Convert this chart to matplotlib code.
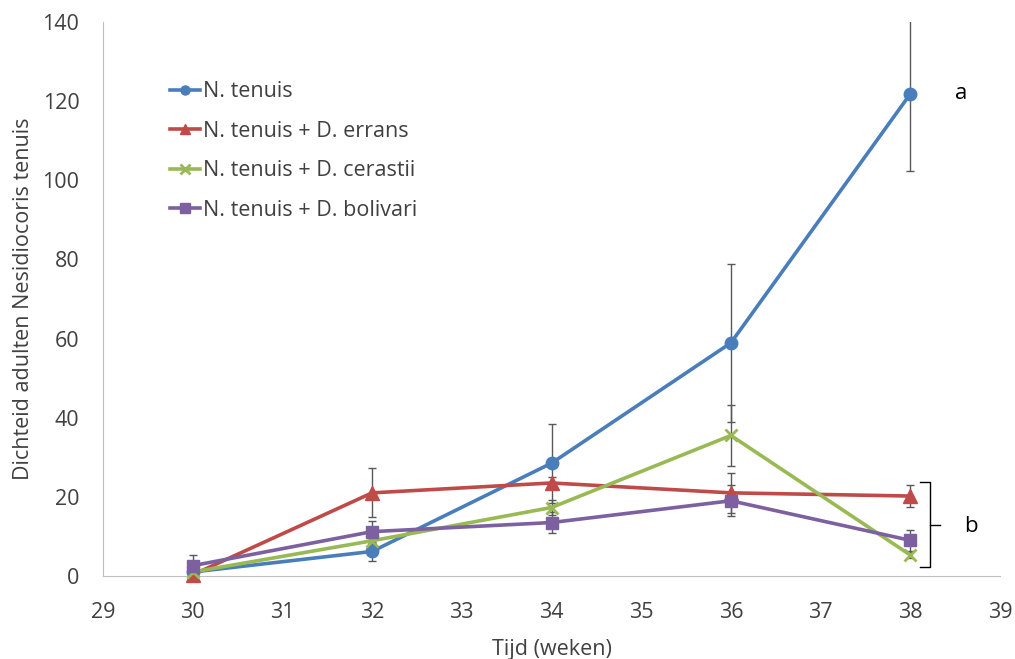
import matplotlib.pyplot as plt

plt.rcParams['font.family'] = ['Open Sans', 'DejaVu Sans']

weeks = [30, 32, 34, 36, 38]

tenuis = [1.0, 6.2, 28.5, 58.9, 121.8]
tenuis_err = [0.5, 2.3, 10.0, 20.0, 19.5]

errans = [0.3, 21.0, 23.5, 21.0, 20.2]
errans_err = [0.3, 6.2, 1.5, 5.1, 2.8]

cerastii = [1.0, 8.9, 17.3, 35.5, 5.3]
cerastii_err = [0.5, 1.0, 2.0, 7.7, 0.8]

bolivari = [2.6, 11.2, 13.5, 19.0, 9.0]
bolivari_err = [2.8, 2.8, 2.7, 3.9, 2.6]

series = [
    ('N. tenuis', tenuis, tenuis_err, '#4A7EBB', 'o', 9),
    ('N. tenuis + D. errans', errans, errans_err, '#BE4B48', '^', 9.5),
    ('N. tenuis + D. cerastii', cerastii, cerastii_err, '#98B954', 'x', 8),
    ('N. tenuis + D. bolivari', bolivari, bolivari_err, '#7D60A0', 's', 8.5),
]

fig = plt.figure(figsize=(10.15, 6.59), dpi=100)
ax = fig.add_axes([0.1015, 0.126, 0.8837, 0.8407])

# foutbalken eerst, lijnen erover
for name, vals, err, col, mk, ms in series:
    ax.errorbar(weeks, vals, yerr=err, fmt='none', ecolor='#595959',
                elinewidth=1, capsize=3, capthick=1, zorder=2)
for name, vals, err, col, mk, ms in series:
    ax.plot(weeks, vals, color=col, marker=mk, markersize=ms, lw=2.6,
            mew=2 if mk == 'x' else 1, label=name, zorder=3, clip_on=False)

ax.set_xlim(29, 39)
ax.set_ylim(0, 140)
ax.set_xticks(range(29, 40))
ax.set_yticks(range(0, 141, 20))
ax.tick_params(length=0, labelsize=15.5, colors='#404040')
ax.tick_params(axis='x', pad=19)
ax.tick_params(axis='y', pad=17)

for s in ['top', 'right']:
    ax.spines[s].set_visible(False)
ax.spines['left'].set_color('#BFBFBF')
ax.spines['bottom'].set_color('#BFBFBF')

ax.set_xlabel('Tijd (weken)', fontsize=15.5, color='#404040', labelpad=11)
ax.set_ylabel('Dichteid adulten Nesidiocoris tenuis', fontsize=15.5,
              color='#404040', labelpad=6)

leg = ax.legend(loc='upper left', bbox_to_anchor=(0.075, 0.893), frameon=False,
                fontsize=15.5, handlelength=1.4, handletextpad=0.1,
                labelspacing=0.86, labelcolor='#404040',
                borderpad=0, borderaxespad=0)
for h in leg.get_lines():
    h.set_markersize(6.5)
    h.set_linewidth(2.6)

# significantieletters
ax.text(38.5, 122, 'a', fontsize=16, va='center', ha='left')
ax.plot([38.11, 38.22, 38.22, 38.11], [23.8, 23.8, 2.3, 2.3], color='black',
        lw=1, clip_on=False)
ax.plot([38.22, 38.33], [13.0, 13.0], color='black', lw=1, clip_on=False)
ax.text(38.6, 12.5, 'b', fontsize=16, va='center', ha='left')

fig.savefig('out.png', dpi=100)
